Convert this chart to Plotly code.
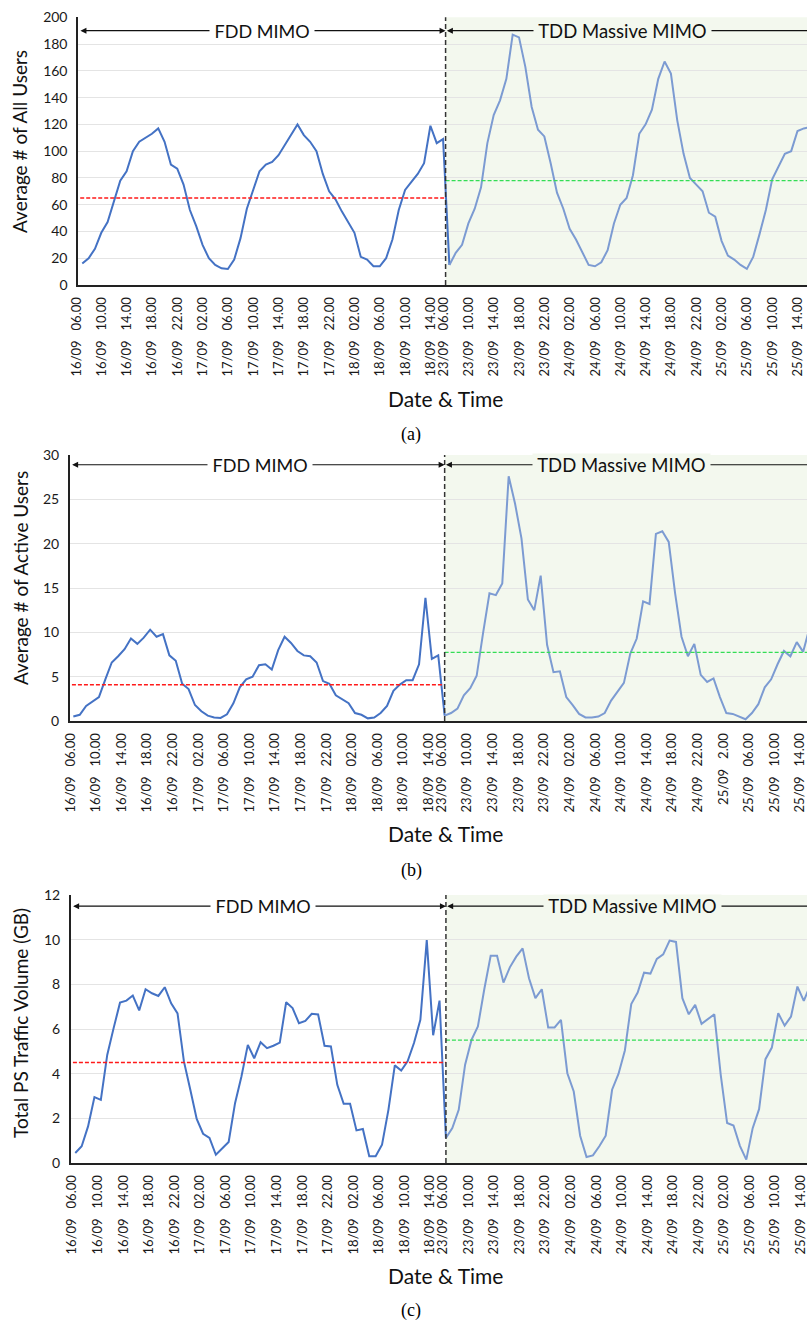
import pandas as pd
import plotly.graph_objects as go

# ---------------- data ----------------
fdd_times = pd.date_range("2019-09-16 06:00", periods=58, freq="h")
tdd_times = pd.date_range("2019-09-23 06:00", periods=58, freq="h")
categories = [t.strftime("%d/%m   %H.%M") for t in list(fdd_times) + list(tdd_times)]

all_users_fdd = [16, 20, 27, 39, 47, 62, 78, 85, 100, 107, 110, 113, 117, 107, 90,
                 87, 75, 56, 44, 30, 20, 15, 12.5, 12, 19, 35, 57, 71, 85, 90,
                 92, 97, 105, 113, 120, 112, 107, 100, 83, 70, 64, 55, 47, 39, 21,
                 19, 14, 14, 20, 34, 56, 71, 77, 83, 91, 119, 106, 109]
all_users_tdd = [15, 24, 30, 46, 57, 73, 106, 127, 138, 154, 187, 185, 163, 133, 116,
                 111, 91, 69, 57, 42, 34, 24, 15, 14, 17, 26, 46, 60, 65, 82,
                 113, 120, 131, 154, 167, 158, 123, 98, 80, 75, 70, 54, 51, 33, 22,
                 19, 15, 12, 21, 38, 56, 79, 88, 98, 100, 115, 117, 118]

active_fdd = [0.5, 0.7, 1.7, 2.2, 2.7, 4.7, 6.6, 7.3, 8.1, 9.3, 8.7, 9.4, 10.3, 9.5, 9.8,
              7.4, 6.8, 4.2, 3.6, 1.8, 1.1, 0.6, 0.4, 0.35, 0.75, 2.0, 3.8, 4.7, 5.0, 6.3,
              6.4, 5.8, 8.0, 9.5, 8.8, 7.9, 7.4, 7.3, 6.6, 4.5, 4.2, 2.9, 2.4, 2.0, 0.9,
              0.7, 0.3, 0.4, 0.9, 1.7, 3.4, 4.1, 4.6, 4.6, 6.4, 13.9, 7.0, 7.4]
active_tdd = [0.6, 0.9, 1.4, 2.9, 3.7, 5.1, 9.9, 14.4, 14.2, 15.5, 27.6, 24.5, 20.6, 13.7, 12.5,
              16.4, 8.6, 5.5, 5.6, 2.7, 1.8, 0.8, 0.4, 0.4, 0.5, 0.9, 2.3, 3.3, 4.3, 7.6,
              9.3, 13.5, 13.2, 21.1, 21.4, 20.2, 14.4, 9.5, 7.3, 8.7, 5.2, 4.4, 4.8, 2.7, 0.9,
              0.8, 0.5, 0.2, 0.9, 1.9, 3.8, 4.7, 6.4, 7.9, 7.3, 8.9, 7.8, 10.5]

traffic_fdd = [0.45, 0.75, 1.64, 2.95, 2.83, 4.84, 6.04, 7.18, 7.27, 7.5, 6.83, 7.78, 7.6, 7.48, 7.87,
               7.15, 6.7, 4.55, 3.28, 1.97, 1.31, 1.12, 0.37, 0.67, 0.94, 2.68, 3.87, 5.29, 4.69, 5.41,
               5.14, 5.25, 5.39, 7.2, 6.94, 6.26, 6.36, 6.68, 6.65, 5.25, 5.22, 3.5, 2.65, 2.65, 1.46,
               1.52, 0.3, 0.3, 0.82, 2.38, 4.37, 4.14, 4.55, 5.37, 6.41, 9.98, 5.72, 7.27]
traffic_tdd = [1.12, 1.56, 2.38, 4.4, 5.51, 6.11, 7.78, 9.28, 9.28, 8.08, 8.76, 9.24, 9.61, 8.27, 7.38,
               7.78, 6.07, 6.07, 6.41, 4.02, 3.2, 1.22, 0.27, 0.34, 0.75, 1.22, 3.28, 3.99, 5.04, 7.12,
               7.63, 8.52, 8.48, 9.14, 9.34, 9.96, 9.9, 7.38, 6.66, 7.08, 6.23, 6.44, 6.66, 3.95, 1.79,
               1.68, 0.77, 0.15, 1.56, 2.41, 4.65, 5.17, 6.71, 6.15, 6.56, 7.9, 7.26, 7.96]

fdd_avg = [65, 4.1, 4.5]
tdd_avg = [78, 7.75, 5.5]

y_titles = ["Average # of All Users", "Average # of Active Users", "Total PS Traffic Volume (GB)"]
panel_letters = ["(a)", "(b)", "(c)"]
y_max = [200, 30, 12]
y_step = [20, 5, 2]

tick_cats = categories[0:57:4] + categories[58:116:4]
tick_text_std = list(tick_cats)
tick_text_b = [t.replace("25/09   02.00", "25/09   2.00") for t in tick_cats]

# ---------------- layout geometry (pixels) ----------------
W, H = 807, 1322
FONT = "Lato"
NB = "\u00a0"
panels = [
    dict(fdd=all_users_fdd, tdd=all_users_tdd, left=78.3, top=17.3, bottom=285,
         xr=[-0.63, 114.5], split=57.4, arrow_y=190, fdd_tx=28.4, tdd_tx=85.4,
         ytitle_y=142, xtitle_y=398, letter_y=434, ticktext=tick_text_std, shift=-6),
    dict(fdd=active_fdd, tdd=active_tdd, left=70, top=455, bottom=721,
         xr=[-0.52, 114.6], split=58, arrow_y=28.9, fdd_tx=29.1, tdd_tx=85.6,
         ytitle_y=578, xtitle_y=833, letter_y=870, ticktext=tick_text_b, shift=-3),
    dict(fdd=traffic_fdd, tdd=traffic_tdd, left=71, top=895, bottom=1163,
         xr=[-0.67, 114.5], split=58, arrow_y=11.5, fdd_tx=29.3, tdd_tx=87.2,
         ytitle_y=1023, xtitle_y=1275, letter_y=1310, ticktext=tick_text_std, shift=-3),
]

FDD_BLUE = "#4472C4"
TDD_BLUE = "#7c9bd2"
GREEN_BG = "#f3f8ee"

fig = go.Figure()
shapes, annotations = [], []
layout = {}

for k, p in enumerate(panels):
    sfx = "" if k == 0 else str(k + 1)
    xa, ya = "x" + sfx, "y" + sfx
    fdd, tdd = p["fdd"], p["tdd"]
    n_fdd = len(fdd)

    fig.add_trace(go.Scatter(x=categories[:n_fdd + 1], y=fdd + [tdd[0]], mode="lines",
                             line=dict(color=FDD_BLUE, width=2), xaxis=xa, yaxis=ya,
                             showlegend=False, hoverinfo="skip"))
    fig.add_trace(go.Scatter(x=categories[n_fdd:], y=tdd, mode="lines",
                             line=dict(color=TDD_BLUE, width=2), xaxis=xa, yaxis=ya,
                             showlegend=False, hoverinfo="skip"))

    layout["xaxis" + sfx] = dict(
        domain=[p["left"] / W, 1], anchor=ya, type="category", automargin=False,
        categoryorder="array", categoryarray=categories,
        range=p["xr"], tickmode="array", tickvals=tick_cats, ticktext=p["ticktext"],
        tickangle=-90, tickfont=dict(family=FONT, size=13, color="#1a1a1a"),
        showgrid=False, zeroline=False, showline=True, linecolor="#222", linewidth=2,
        ticks="", ticklabelstandoff=5, ticklabelshift=p["shift"])
    layout["yaxis" + sfx] = dict(
        domain=[1 - p["bottom"] / H, 1 - p["top"] / H], anchor=xa, automargin=False,
        range=[0, y_max[k]], dtick=y_step[k], tick0=0,
        tickfont=dict(family=FONT, size=14, color="#1a1a1a"),
        showgrid=True, gridcolor="#e4e4e4", gridwidth=1, zeroline=False,
        showline=True, linecolor="#222", linewidth=2, ticks="", ticklabelstandoff=6)

    # shaded TDD region
    shapes.append(dict(type="rect", xref=xa, yref=ya + " domain", x0=p["split"], x1=p["xr"][1],
                       y0=0, y1=1, fillcolor=GREEN_BG, line=dict(width=0), layer="below"))
    # average lines
    shapes.append(dict(type="line", xref=xa, yref=ya, x0=p["xr"][0] + 0.3, x1=p["split"],
                       y0=fdd_avg[k], y1=fdd_avg[k], line=dict(color="#ff1a1a", width=1.5, dash="4px,2px")))
    shapes.append(dict(type="line", xref=xa, yref=ya, x0=p["split"], x1=p["xr"][1],
                       y0=tdd_avg[k], y1=tdd_avg[k], line=dict(color="#33dd55", width=1.3, dash="4px,2px")))
    # split line
    shapes.append(dict(type="line", xref=xa, yref=ya + " domain", x0=p["split"], x1=p["split"],
                       y0=0, y1=1, line=dict(color="#333", width=1.5, dash="5px,3px")))

    # arrows
    annotations.append(dict(xref=xa, yref=ya, axref=xa, ayref=ya, x=p["split"], y=p["arrow_y"],
                            ax=p["xr"][0] + 0.1, ay=p["arrow_y"], text="", showarrow=True,
                            arrowside="end+start", arrowhead=2, startarrowhead=2, arrowsize=1,
                            startarrowsize=1, arrowwidth=1.2, arrowcolor="#111",
                            standoff=0, startstandoff=0))
    annotations.append(dict(xref=xa, yref=ya, axref=xa, ayref=ya, x=p["split"] + 0.2, y=p["arrow_y"],
                            ax=p["xr"][1] + 3, ay=p["arrow_y"], text="", showarrow=True,
                            arrowside="end", arrowhead=2, arrowsize=1, arrowwidth=1.2,
                            arrowcolor="#111", standoff=0))
    annotations.append(dict(xref=xa, yref=ya, x=p["fdd_tx"], y=p["arrow_y"],
                            text=NB + "FDD MIMO" + NB,
                            showarrow=False, font=dict(family=FONT, size=18, color="#111"),
                            bgcolor="white", borderpad=0, xanchor="center", yanchor="middle"))
    annotations.append(dict(xref=xa, yref=ya, x=p["tdd_tx"], y=p["arrow_y"],
                            text=NB + "TDD Massive MIMO" + NB,
                            showarrow=False, font=dict(family=FONT, size=18.5, color="#111"),
                            bgcolor=GREEN_BG, borderpad=0, xanchor="center", yanchor="middle"))
    # titles
    annotations.append(dict(xref="paper", yref="paper", x=20 / W, y=1 - p["ytitle_y"] / H,
                            text=y_titles[k], textangle=-90, showarrow=False,
                            font=dict(family=FONT, size=19, color="#111"),
                            xanchor="center", yanchor="middle"))
    annotations.append(dict(xref="paper", yref="paper", x=445 / W, y=1 - p["xtitle_y"] / H,
                            text="Date &amp; Time", showarrow=False,
                            font=dict(family=FONT, size=21, color="#111"),
                            xanchor="center", yanchor="middle"))
    annotations.append(dict(xref="paper", yref="paper", x=411 / W, y=1 - p["letter_y"] / H,
                            text=panel_letters[k], showarrow=False,
                            font=dict(family="Liberation Serif", size=18, color="#000"),
                            xanchor="center", yanchor="middle"))

fig.update_layout(**layout)
fig.update_layout(width=W, height=H, margin=dict(l=0, r=0, t=0, b=0, autoexpand=False),
                  paper_bgcolor="white", plot_bgcolor="white",
                  shapes=shapes, annotations=annotations, showlegend=False)

fig.write_html("out.html")
